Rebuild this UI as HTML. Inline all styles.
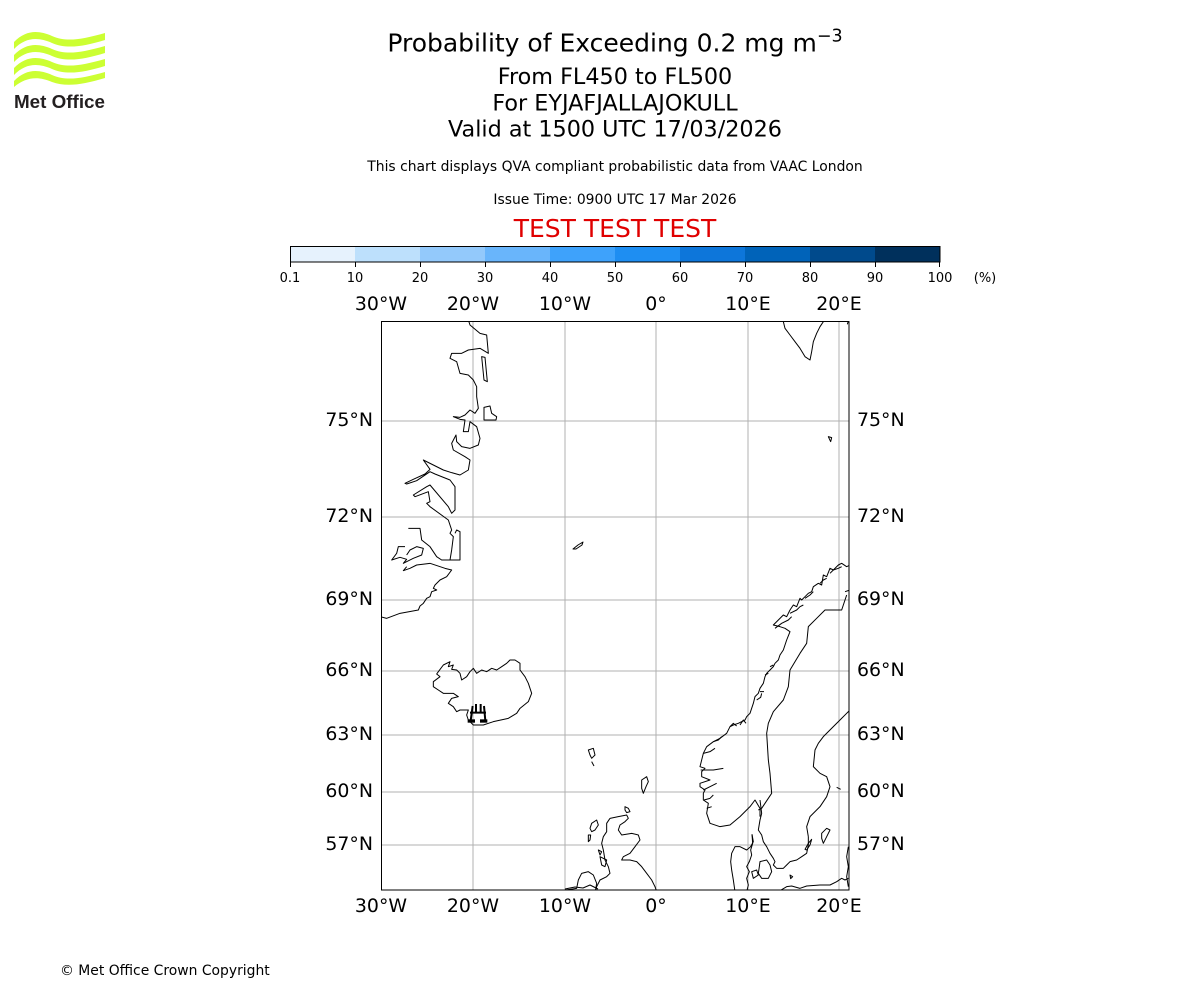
<!DOCTYPE html>
<html><head><meta charset="utf-8">
<style>
html,body{margin:0;padding:0;background:#fff;}
svg{display:block;}
text{font-family:"DejaVu Sans","Liberation Sans",sans-serif;}
.c{fill:none;stroke:#000;stroke-width:1;stroke-linejoin:round;}
.cs{fill:none;stroke:#000;stroke-width:3;stroke-linejoin:round;}
</style></head>
<body>
<svg width="1200" height="1000" viewBox="0 0 1200 1000" xmlns="http://www.w3.org/2000/svg">
<rect width="1200" height="1000" fill="#fff"/>

<!-- Met Office logo -->
<g fill="#ccff33">
  <path d="M14,42 C26,30 38,30 52,36 C66,42 80,40 105,33 L105,40 C82,47 66,49 52,43 C38,37 26,37 14,49 Z"/>
  <path d="M14,55 C26,43 38,43 52,49 C66,55 80,53 105,46 L105,53 C82,60 66,62 52,56 C38,50 26,50 14,62 Z"/>
  <path d="M14,68 C26,56 38,56 52,62 C66,68 80,66 105,59 L105,66 C82,73 66,75 52,69 C38,63 26,63 14,75 Z"/>
  <path d="M14,81 C26,69 38,69 52,75 C66,81 80,79 105,72 L105,78 C82,85 66,87 52,82 C38,76 26,77 14,87 Z"/>
</g>
<text x="14" y="108" font-weight="bold" font-size="18" fill="#231f20" textLength="91" lengthAdjust="spacingAndGlyphs" style="font-family:'Liberation Sans',sans-serif">Met Office</text>

<!-- Titles -->
<text x="615" y="51.7" text-anchor="middle" font-size="25" fill="#000">Probability of Exceeding 0.2 mg m<tspan dy="-10" font-size="17.5">−3</tspan></text>
<text x="615" y="84" text-anchor="middle" font-size="22.3" fill="#000">From FL450 to FL500</text>
<text x="615" y="110.7" text-anchor="middle" font-size="22.3" fill="#000">For EYJAFJALLAJOKULL</text>
<text x="615" y="136.7" text-anchor="middle" font-size="22.3" fill="#000">Valid at 1500 UTC 17/03/2026</text>
<text x="615" y="171" text-anchor="middle" font-size="13.9" fill="#000">This chart displays QVA compliant probabilistic data from VAAC London</text>
<text x="615" y="204" text-anchor="middle" font-size="13.9" fill="#000">Issue Time: 0900 UTC 17 Mar 2026</text>
<text x="615" y="237" text-anchor="middle" font-size="25" fill="#e00000">TEST TEST TEST</text>

<!-- Colorbar -->
<g>
  <rect x="290" y="246" width="65" height="16" fill="#e6f2fd"/>
  <rect x="355" y="246" width="65" height="16" fill="#bde0fc"/>
  <rect x="420" y="246" width="65" height="16" fill="#93c9fb"/>
  <rect x="485" y="246" width="65" height="16" fill="#69b5fb"/>
  <rect x="550" y="246" width="65" height="16" fill="#3ea2fb"/>
  <rect x="615" y="246" width="65" height="16" fill="#1e8ef2"/>
  <rect x="680" y="246" width="65" height="16" fill="#0d76da"/>
  <rect x="745" y="246" width="65" height="16" fill="#0063b9"/>
  <rect x="810" y="246" width="65" height="16" fill="#004a8c"/>
  <rect x="875" y="246" width="65" height="16" fill="#00305c"/>
  <rect x="290.5" y="246.5" width="649.5" height="15.5" fill="none" stroke="#000" stroke-width="1"/>
  <path d="M290.5,262V267M355.5,262V267M420.5,262V267M485.5,262V267M550.5,262V267M615.5,262V267M680.5,262V267M745.5,262V267M810.5,262V267M875.5,262V267M939.5,262V267" stroke="#000" stroke-width="1"/>
  <g font-size="13" text-anchor="middle" fill="#000">
    <text x="290" y="282">0.1</text>
    <text x="355" y="282">10</text>
    <text x="420" y="282">20</text>
    <text x="485" y="282">30</text>
    <text x="550" y="282">40</text>
    <text x="615" y="282">50</text>
    <text x="680" y="282">60</text>
    <text x="745" y="282">70</text>
    <text x="810" y="282">80</text>
    <text x="875" y="282">90</text>
    <text x="940" y="282">100</text>
    <text x="985" y="282">(%)</text>
  </g>
</g>

<!-- Map -->
<defs>
  <clipPath id="mc"><rect x="381.5" y="321.5" width="467.5" height="568.5"/></clipPath>
</defs>
<g clip-path="url(#mc)">
  <g stroke="#b0b0b0" stroke-width="1">
    <path d="M473,321V890M565,321V890M656,321V890M748,321V890M839,321V890"/>
    <path d="M381,421H849M381,517H849M381,600H849M381,671H849M381,735H849M381,792H849M381,845H849"/>
  </g>

  <!-- Greenland -->
  <g transform="translate(380,320) scale(0.33333)">
    <path class="cs" d="M265,0 L270,15 L300,40 L320,45 L325,100 L300,85 L265,90 L245,100 L215,100 L210,115 L230,125 L240,160 L265,165 L280,180 L290,200 L290,230 L295,265 L285,280 L270,270 L255,285 L240,292 L220,290 L240,298 L255,300 L250,335 L265,335 L270,305 L290,320 L300,355 L295,375 L270,385 L245,380 L230,365 L228,345 L215,370 L220,390 L255,410 L270,420 L265,450 L240,465 L215,458 L190,450 L160,435 L130,420 L150,448 L135,462 L100,478 L75,490 L80,492 L110,482 L150,455 L165,462 L210,480 L225,500 L225,570 L215,580 L205,560 L150,495 L140,500 L100,525 L105,530 L145,515 L150,545 L140,550 L150,560 L205,600 L215,630 L210,640 L220,650 L215,690 L210,720 L240,720 L240,635 L230,630 L225,640"/>
    <path class="cs" d="M85,625 L120,625 L125,660 L150,680 L170,710 L185,720 L210,720"/>
    <path class="cs" d="M75,680 L55,680 L50,700 L35,720 L60,712 L80,718 L70,730 L100,715 L125,705 L130,685 L110,680 L90,690 L80,705"/>
    <path class="cs" d="M80,740 L70,752 L90,745 L110,735 L150,730 L195,745 L215,750 L200,770 L180,780 L165,795 L160,805 L170,810 L155,815 L150,830 L140,835 L130,850 L120,858 L115,870 L60,880 L20,895 L0,890"/>
    <path class="cs" d="M305,110 L315,112 L322,185 L312,180 Z"/>
    <path class="cs" d="M312,262 L330,258 L335,280 L350,290 L348,300 L312,300 Z"/>
  </g>

  <!-- Svalbard & Bear Island -->
  <g transform="translate(760,315) scale(0.33333)">
    <path class="cs" d="M60,0 L70,20 L75,40 L90,60 L105,80 L120,100 L135,125 L150,135 L155,110 L160,80 L170,55 L180,35 L190,20 L185,0"/>
    <path class="cs" d="M262,28 L266,15 L270,10"/>
    <path class="cs" d="M205,365 L215,368 L212,380 Z"/>
  </g>

  <path class="c" d="M573,549 L578,545 L583,542 L582,545 L576,549 Z"/>

  <!-- Iceland -->
  <g transform="translate(420,640) scale(0.33333)">
    <path class="cs" d="M40,125 L60,110 L50,102 L55,95 L70,75 L90,65 L85,80 L100,75 L95,88 L110,90 L120,100 L125,120 L140,110 L150,95 L160,85 L170,100 L185,90 L200,95 L215,85 L230,90 L245,80 L260,70 L270,60 L285,60 L300,70 L300,90 L315,110 L325,130 L335,160 L325,185 L300,205 L290,220 L265,235 L220,245 L190,255 L160,255 L145,240 L140,225 L145,210 L120,210 L110,215 L100,200 L85,190 L95,175 L115,170 L100,160 L70,160 L55,150 L40,140 Z"/>
    <path fill="none" stroke="#000" stroke-width="6" d="M158,198 L152,242 M192,198 L196,242 M150,218 L198,218 M168,192 L168,218 M182,192 L182,218"/>
    <rect x="143" y="238" width="22" height="10" fill="#000"/>
    <rect x="180" y="238" width="22" height="10" fill="#000"/>
  </g>

  <!-- Faroe, Shetland, Scotland, N Ireland -->
  <g transform="translate(560,740) scale(0.33333)">
    <path class="cs" d="M85,30 L100,25 L105,45 L95,55 L90,45 Z"/>
    <path class="cs" d="M95,65 L102,78"/>
    <path class="cs" d="M245,120 L260,110 L265,125 L258,140 L250,160 L245,145 Z"/>
    <path class="cs" d="M195,200 L205,205 L210,215 L200,218 L195,210 Z"/>
    <path class="cs" d="M150,235 L175,230 L200,225 L205,235 L195,245 L180,255 L175,270 L185,285 L215,280 L235,285 L240,300 L225,320 L210,340 L190,350 L185,360 L210,360 L230,365 L245,380 L260,400 L275,420 L285,440 L292,460"/>
    <path class="cs" d="M150,235 L140,250 L140,275 L130,290 L125,310 L130,330 L135,360 L145,380 L150,400 L140,410 L120,420 L110,440 L105,460"/>
    <path class="cs" d="M0,452 L30,448 L50,445 L55,420 L65,400 L85,395 L100,405 L110,430 L105,460"/>
    <path class="cs" d="M95,250 L110,240 L115,255 L105,270 L95,275 L90,265 Z"/>
    <path class="cs" d="M85,285 L92,285 L90,300 L85,305 Z"/>
    <path class="cs" d="M115,330 L125,335 L120,345 Z"/>
    <path class="cs" d="M120,350 L140,360 L135,380 L125,375 Z"/>
  </g>

  <!-- Norway / Sweden -->
  <g transform="translate(690,560) scale(0.33333)">
    <path class="cs" d="M480,15 L470,20 L455,10 L445,15 L430,30 L420,25 L410,50 L400,45 L395,75 L385,70 L370,80 L365,95 L355,100 L345,110 L335,120 L330,115 L320,140 L310,135 L300,150 L290,170 L280,165 L265,180 L250,195 L270,200 L285,205 L300,215 L290,240 L285,255 L280,270 L270,285 L265,300 L255,310 L250,320 L240,330 L230,340 L225,350 L220,370 L210,385 L205,400 L195,410 L190,430 L185,445 L180,460 L170,470 L165,480 L145,490 L130,495 L120,500 L110,520 L90,535 L70,545 L50,560 L40,580 L35,600 L30,620 L45,625 L35,635 L35,650 L60,660 L30,670 L30,680 L45,690 L40,700 L40,720 L55,730 L50,760 L60,790 L90,800 L120,795 L150,770 L180,740 L195,720 L210,745 L210,770"/>
    <path class="cs" d="M255,205 L275,190 L295,180 L305,170"/>
    <path class="cs" d="M300,160 L320,150 L330,140 L340,135"/>
    <path class="cs" d="M345,115 L360,105 L370,95"/>
    <path class="cs" d="M390,70 L400,60 L410,55"/>
    <path class="cs" d="M420,40 L430,30 L445,25 L455,20"/>
    <path class="cs" d="M200,420 L212,412 L215,400"/>
    <path class="cs" d="M150,495 L160,480 L168,490"/>
    <path class="cs" d="M120,500 L130,490 L140,498"/>
    <path class="cs" d="M70,545 L85,540 L95,530"/>
    <path class="cs" d="M40,580 L60,575 L75,565"/>
    <path class="cs" d="M32,630 L70,630 L100,625"/>
    <path class="cs" d="M40,690 L60,680 L80,670"/>
    <path class="cs" d="M42,720 L60,715 L70,705"/>
    <path class="cs" d="M50,745 L65,740"/>
    <path class="cs" d="M240,320 L250,315 M225,345 L235,340 M210,395 L222,395"/>
    <path class="cs" d="M470,105 L455,150 L430,150 L405,150 L380,175 L355,200 L350,250 L330,280 L300,330 L295,380 L280,420 L250,455 L235,490 L230,520 L235,600 L240,640 L245,700 L215,745 L205,750"/>
    <path class="cs" d="M465,95 L480,90"/>
    <path class="cs" d="M480,450 L470,460 L450,480 L430,500 L400,530 L385,550 L375,570 L370,620 L390,640 L410,650 L420,680 L410,710 L390,740 L360,770 L350,800 L355,830"/>
    <path class="cs" d="M440,682 L452,688"/>
  </g>

  <!-- South Sweden, Denmark, Baltic -->
  <g transform="translate(720,800) scale(0.33333)">
    <path class="cs" d="M265,110 L265,135 L260,160 L245,170 L230,180 L210,185 L200,195 L190,205 L170,205 L160,195 L165,185 L160,175 L150,160 L140,140 L130,125 L125,105 L115,90 L120,60 L125,40 L120,0"/>
    <path class="cs" d="M255,148 L265,130 L275,118 L270,135 L260,150 Z"/>
    <path class="cs" d="M305,100 L320,85 L330,90 L320,110 L310,130 L305,115 Z"/>
    <path class="cs" d="M385,140 L380,170 L385,200 L380,230 L385,260"/>
    <path class="cs" d="M180,272 L200,260 L215,258 L240,265 L260,258 L300,255 L330,255 L350,245 L365,235 L375,240 L385,235"/>
    <path class="cs" d="M96,103 L100,125 L92,140 L80,150 L60,140 L45,140 L35,160 L32,185 L35,210 L40,240 L45,275"/>
    <path class="cs" d="M96,103 L98,130 L92,150 L95,165 L88,185 L80,200 L88,215 L80,235 L85,255 L80,275"/>
    <path class="cs" d="M120,185 L140,180 L150,195 L155,215 L145,235 L125,235 L115,220 L118,200 Z"/>
    <path class="cs" d="M95,215 L110,210 L115,225 L100,235 Z"/>
    <path class="cs" d="M210,225 L218,230 L212,236 Z"/>
  </g>

  <path class="c" d="M565,889 L575,887 L583,888 L590,885 L598,889"/>
</g>

<rect x="381.5" y="321.5" width="467.5" height="568.5" fill="none" stroke="#000" stroke-width="1"/>

<!-- Axis labels -->
<g font-size="18.9" fill="#000" text-anchor="middle">
  <text x="381" y="310">30°W</text>
  <text x="473" y="310">20°W</text>
  <text x="565" y="310">10°W</text>
  <text x="656" y="310">0°</text>
  <text x="748" y="310">10°E</text>
  <text x="839" y="310">20°E</text>
  <text x="381" y="912">30°W</text>
  <text x="473" y="912">20°W</text>
  <text x="565" y="912">10°W</text>
  <text x="656" y="912">0°</text>
  <text x="748" y="912">10°E</text>
  <text x="839" y="912">20°E</text>
</g>
<g font-size="18.9" fill="#000" text-anchor="end">
  <text x="373" y="426">75°N</text>
  <text x="373" y="522">72°N</text>
  <text x="373" y="605">69°N</text>
  <text x="373" y="676">66°N</text>
  <text x="373" y="740">63°N</text>
  <text x="373" y="797">60°N</text>
  <text x="373" y="850">57°N</text>
</g>
<g font-size="18.9" fill="#000" text-anchor="start">
  <text x="857" y="426">75°N</text>
  <text x="857" y="522">72°N</text>
  <text x="857" y="605">69°N</text>
  <text x="857" y="676">66°N</text>
  <text x="857" y="740">63°N</text>
  <text x="857" y="797">60°N</text>
  <text x="857" y="850">57°N</text>
</g>

<text x="60" y="975" font-size="13.9" fill="#000">© Met Office Crown Copyright</text>
</svg>
</body></html>
